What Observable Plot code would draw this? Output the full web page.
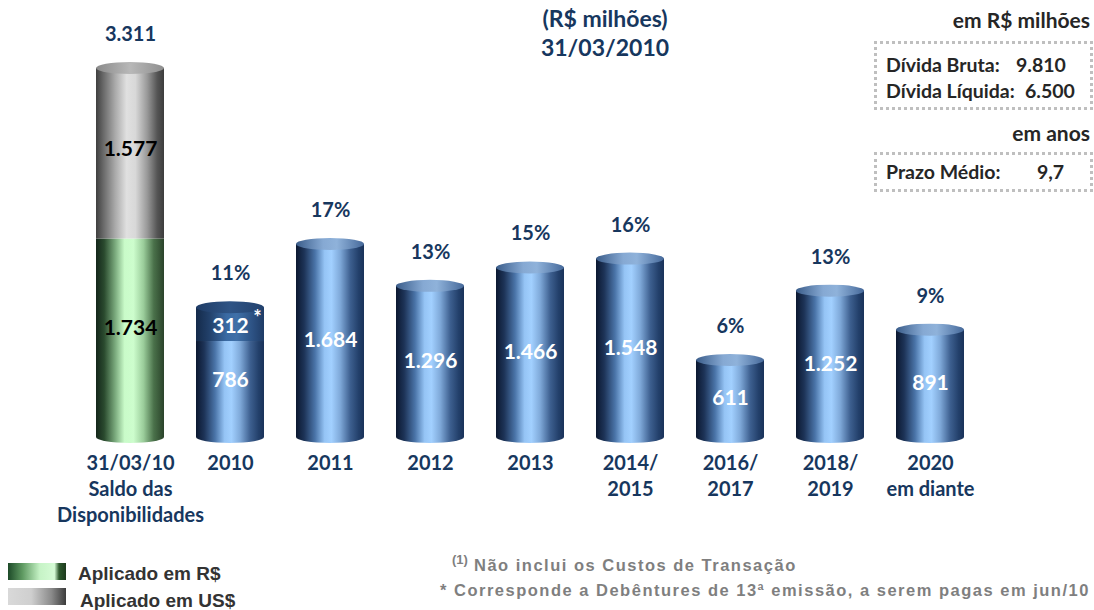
<!DOCTYPE html>
<html>
<head>
<meta charset="utf-8">
<script src="https://cdn.jsdelivr.net/npm/d3@7"></script>
<script src="https://cdn.jsdelivr.net/npm/@observablehq/plot@0.6"></script>
<style>
  body { margin: 0; background: #fff; }
  #wrap { position: relative; width: 1094px; height: 610px; overflow: hidden; font-family: Lato, "Open Sans", sans-serif; }
  #chart { position: absolute; left: 0; top: 0; }
  .abs { position: absolute; white-space: pre; }
  .title { left: 405px; width: 400px; top: 4px; text-align: center; color: #17375e; font-weight: bold; font-size: 23px; line-height: 29px; }
  .unit { right: 4px; color: #262626; font-weight: bold; font-size: 21px; line-height: 22px; }
  .box { left: 874px; width: 219px; box-sizing: border-box; border: 3px dotted #bfbfbf; color: #262626; font-weight: bold; font-size: 19.5px; line-height: 26px; padding-left: 9px; }
  .box span { display: inline-block; }
  .leg { font-family: "Liberation Sans Narrow", "Liberation Sans", sans-serif; font-weight: bold; font-size: 19px; color: #333; line-height: 20px; }
  .sw { position: absolute; left: 8px; width: 58px; height: 17px; }
  .note { font-family: "Liberation Sans", Arial, sans-serif; font-weight: bold; font-size: 16.5px; color: #7f7f7f; letter-spacing: 1.5px; line-height: 20px; }
</style>
</head>
<body>
<div id="wrap">
  <div id="chart"></div>
  <div class="abs title">(R$ milhões)<br>31/03/2010</div>
  <div class="abs unit" style="top:9px">em R$ milhões</div>
  <div class="abs box" style="top:41px;height:69px;padding-top:8px"><span style="width:130px">Dívida Bruta:</span>9.810<br><span style="width:139px">Dívida Líquida:</span>6.500</div>
  <div class="abs unit" style="top:122px">em anos</div>
  <div class="abs box" style="top:152px;height:40px;padding-top:4px"><span style="width:151px">Prazo Médio:</span>9,7</div>
  <div class="sw" style="top:563px;background:linear-gradient(to right,#1d4a28 0%,#5f9a62 25%,#c6f3c6 55%,#d5fbd5 80%,#2e5a2e 88%,#1d3a1d 100%)"></div>
  <div class="abs leg" style="left:78px;top:564px">Aplicado em R$</div>
  <div class="sw" style="top:588px;background:linear-gradient(to right,#d9d9d9 0%,#cfcfcf 40%,#8a8a8a 75%,#3c3c3c 100%)"></div>
  <div class="abs leg" style="left:80px;top:591px">Aplicado em US$</div>
  <div class="abs note" style="left:452px;top:555px"><span style="font-size:13px;position:relative;top:-7px;letter-spacing:0">(1)</span> Não inclui os Custos de Transação</div>
  <div class="abs note" style="left:440px;top:580px">* Corresponde a Debêntures de 13ª emissão, a serem pagas em jun/10</div>
</div>
<script>
// ---- data ----
const categories = ["31/03/10", "2010", "2011", "2012", "2013", "2014/2015", "2016/2017", "2018/2019", "2020"];
const tickLabels = ["31/03/10\nSaldo das\nDisponibilidades", "2010", "2011", "2012", "2013", "2014/\n2015", "2016/\n2017", "2018/\n2019", "2020\nem diante"];
const saldoRS = 1734;      // Aplicado em R$
const saldoUS = 1577;      // Aplicado em US$
const amortizacao = [786, 1684, 1296, 1466, 1548, 611, 1252, 891];   // 2010 ... 2020 em diante
const debentures = [312, 0, 0, 0, 0, 0, 0, 0];                       // 2010 (*)
const percentuais = ["11%", "17%", "13%", "15%", "16%", "6%", "13%", "9%"];

const fmt = d3.formatLocale({decimal: ",", thousands: ".", grouping: [3], currency: ["R$", ""]}).format(",d");

// ---- build tables ----
const segs = [];
segs.push({cat: categories[0], lo: 0, hi: saldoRS, fill: "url(#gGreen)", lf: "#000", base: true, stacked: true});
segs.push({cat: categories[0], lo: saldoRS, hi: saldoRS + saldoUS, fill: "url(#gGrey)", lf: "#000", base: false, stacked: true});
amortizacao.forEach((v, i) => {
  const c = categories[i + 1];
  const st = debentures[i] > 0;
  segs.push({cat: c, lo: 0, hi: v, fill: "url(#gBlue)", lf: "#fff", base: true, stacked: st});
  if (st) segs.push({cat: c, lo: v, hi: v + debentures[i], fill: "url(#gDark)", lf: "#fff", base: false, stacked: true, star: true});
});
const tops = categories.map((c, i) => {
  const total = i === 0 ? saldoRS + saldoUS : amortizacao[i - 1] + debentures[i - 1];
  return {cat: c, total, cap: i === 0 ? "url(#gCapGrey)" : (debentures[i - 1] > 0 ? "url(#gCapDark)" : "url(#gCapBlue)"),
          bottom: i === 0 ? "url(#gGreen)" : "url(#gBlue)", label: i === 0 ? fmt(total) : percentuais[i - 1]};
});
const ticks = categories.map((c, i) => ({cat: c, label: tickLabels[i]}));

const navy = "#17375e";
const plot = Plot.plot({
  width: 1094, height: 610,
  marginLeft: 80, marginRight: 114, marginTop: 68, marginBottom: 184,
  style: {fontFamily: "Lato, 'Open Sans', sans-serif", background: "transparent"},
  x: {domain: categories, paddingInner: 0.32, paddingOuter: 0.16, axis: null},
  y: {domain: [0, d3.max(tops, d => d.total)], nice: false, axis: null},
  color: {type: "identity"},
  marks: [
    // rounded bottom of each cylinder
    Plot.barY(tops, {x: "cat", y1: d => 0, y2: d => 0, fill: "bottom", insetTop: 5, insetBottom: -17, rx: 40, ry: 6}),
    // bottom segments (extended base)
    Plot.barY(segs.filter(d => d.base), {x: "cat", y1: "lo", y2: "hi", fill: "fill", insetBottom: -11}),
    // upper stacked segments
    Plot.barY(segs.filter(d => !d.base), {x: "cat", y1: "lo", y2: "hi", fill: "fill"}),
    // top caps
    Plot.barY(tops, {x: "cat", y1: "total", y2: "total", fill: "cap", insetTop: -6, insetBottom: -6, rx: 40, ry: 6}),
    // value labels
    Plot.text(segs.filter(d => !d.stacked), {x: "cat", y: d => (d.lo + d.hi) / 2, text: d => fmt(d.hi - d.lo), fill: "lf",
      fontSize: 21, fontWeight: "bold", dy: 5}),
    Plot.text(segs.filter(d => d.stacked && !d.star), {x: "cat", y: d => (d.lo + d.hi) / 2, text: d => fmt(d.hi - d.lo), fill: "lf",
      fontSize: 21, fontWeight: "bold", dy: -4}),
    Plot.text(segs.filter(d => d.star), {x: "cat", y: d => (d.lo + d.hi) / 2, text: d => fmt(d.hi - d.lo), fill: "lf",
      fontSize: 21, fontWeight: "bold", dy: 2}),
    Plot.text(segs.filter(d => d.star), {x: "cat", y: d => (d.lo + d.hi) / 2, text: d => "*", fill: "lf",
      fontSize: 20, fontWeight: "bold", dx: 27, dy: -6}),
    // percentages / total above bars
    Plot.text(tops, {x: "cat", y: "total", text: "label", fill: navy, fontSize: 20, fontWeight: "bold", dy: -34}),
    // category labels
    Plot.text(ticks, {x: "cat", text: "label", frameAnchor: "bottom", lineAnchor: "top", dy: 25, lineHeight: 1.3,
      fill: navy, fontSize: 20, fontWeight: "bold"})
  ]
});

// gradients
const defs = d3.select(plot).insert("defs", ":first-child");
function grad(id, stops) {
  const g = defs.append("linearGradient").attr("id", id).attr("x1", 0).attr("x2", 1).attr("y1", 0).attr("y2", 0);
  stops.forEach(([o, c]) => g.append("stop").attr("offset", o).attr("stop-color", c));
}
grad("gBlue", [[0, "#0b1830"], [0.12, "#1d3357"], [0.28, "#4a74a8"], [0.42, "#95c4f5"], [0.52, "#a2d0ff"], [0.65, "#7fa9d9"], [0.8, "#3d5f8f"], [0.92, "#23406b"], [1, "#1a3259"]]);
grad("gDark", [[0, "#142a4a"], [0.2, "#22416b"], [0.45, "#3a6aa3"], [0.6, "#3f70a8"], [0.85, "#2b4f80"], [1, "#1f3c66"]]);
grad("gGreen", [[0, "#14261a"], [0.12, "#2a4a2e"], [0.28, "#79a97c"], [0.42, "#c9fbc9"], [0.55, "#cdfdcd"], [0.7, "#9acc9a"], [0.85, "#4a714a"], [1, "#2a432a"]]);
grad("gGrey", [[0, "#3f3f3f"], [0.1, "#666"], [0.28, "#a9a9a9"], [0.45, "#e0e0e0"], [0.58, "#d8d8d8"], [0.75, "#9a9a9a"], [0.9, "#555"], [1, "#3c3c3c"]]);
grad("gCapBlue", [[0, "#3b5d8a"], [0.4, "#86a9d3"], [0.6, "#8fb2da"], [1, "#46699a"]]);
grad("gCapDark", [[0, "#1f3c66"], [0.5, "#2f5485"], [1, "#22416d"]]);
grad("gCapGrey", [[0, "#8a8a8a"], [0.5, "#b8b8b8"], [1, "#8f8f8f"]]);

document.getElementById("chart").appendChild(plot);
</script>
</body>
</html>
